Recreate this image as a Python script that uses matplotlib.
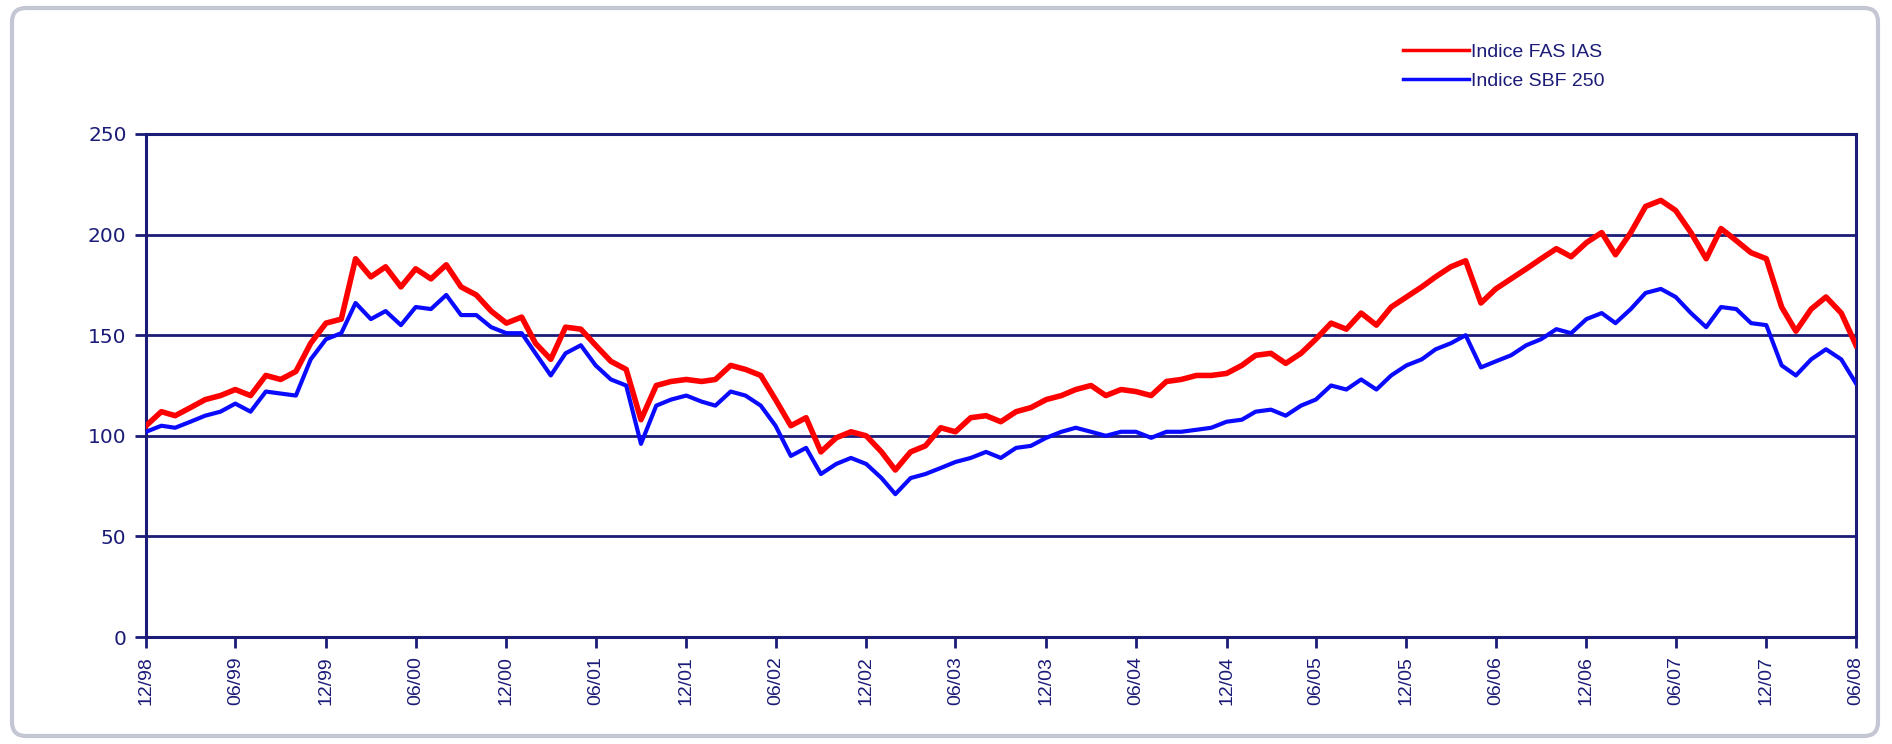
import matplotlib.pyplot as plt
import matplotlib.dates as mdates
from matplotlib.patches import FancyBboxPatch
import pandas as pd


# Data (monthly closes, base 100 in 12/98)

start_month = "1998-12-31"

fas_ias = [
    105, 112, 110, 114, 118, 120, 123, 120, 130, 128, 132, 146,
    156, 158, 188, 179, 184, 174, 183, 178, 185, 174, 170, 162,
    156, 159, 146, 138, 154, 153, 145, 137, 133, 108, 125, 127,
    128, 127, 128, 135, 133, 130, 118, 105, 109, 92, 99, 102,
    100, 92, 83, 92, 95, 104, 102, 109, 110, 107, 112, 114,
    118, 120, 123, 125, 120, 123, 122, 120, 127, 128, 130, 130,
    131, 135, 140, 141, 136, 141, 148, 156, 153, 161, 155, 164,
    169, 174, 179, 184, 187, 166, 173, 178, 183, 188, 193, 189,
    196, 201, 190, 201, 214, 217, 212, 201, 188, 203, 197, 191,
    188, 164, 152, 163, 169, 161, 145,
]

sbf_250 = [
    102, 105, 104, 107, 110, 112, 116, 112, 122, 121, 120, 138,
    148, 151, 166, 158, 162, 155, 164, 163, 170, 160, 160, 154,
    151, 151, 141, 130, 141, 145, 135, 128, 125, 96, 115, 118,
    120, 117, 115, 122, 120, 115, 105, 90, 94, 81, 86, 89,
    86, 79, 71, 79, 81, 84, 87, 89, 92, 89, 94, 95,
    99, 102, 104, 102, 100, 102, 102, 99, 102, 102, 103, 104,
    107, 108, 112, 113, 110, 115, 118, 125, 123, 128, 123, 130,
    135, 138, 143, 146, 150, 134, 137, 140, 145, 148, 153, 151,
    158, 161, 156, 163, 171, 173, 169, 161, 154, 164, 163, 156,
    155, 135, 130, 138, 143, 138, 126,
]

series_labels = ["Indice FAS IAS", "Indice SBF 250"]

y_ticks = [0, 50, 100, 150, 200, 250]

dates = pd.date_range(start_month, periods=len(fas_ias), freq="ME")


# Style

NAVY = "#1c1c78"
plt.rcParams["font.family"] = ["Liberation Sans", "DejaVu Sans"]


# Figure

fig = plt.figure(figsize=(18.92, 7.44), dpi=100)

# light rounded frame around the whole chart
frame = FancyBboxPatch(
    (12, 8), 1866, 728,
    boxstyle="round,pad=0,rounding_size=14",
    transform=None,
    facecolor="none",
    edgecolor="#c4c6d4",
    linewidth=3,
    zorder=-1,
)
fig.patches.append(frame)

ax = fig.add_axes([0.0772, 0.1438, 0.9038, 0.6761])
ax.set_facecolor("none")

ax.plot(dates, fas_ias, color="#ff0000", linewidth=4, label=series_labels[0], zorder=3)
ax.plot(dates, sbf_250, color="#0a0aff", linewidth=3, label=series_labels[1], zorder=4)


# Axes

ax.set_ylim(0, 250)
ax.set_xlim(dates[0], dates[-1])

ax.set_yticks(y_ticks)
ax.yaxis.grid(True, color=NAVY, linewidth=2)
ax.set_axisbelow(True)

tick_dates = dates[::6]
ax.set_xticks(tick_dates)
ax.xaxis.set_major_formatter(mdates.DateFormatter("%m/%y"))

for side in ["left", "right", "top", "bottom"]:
    ax.spines[side].set_color(NAVY)
    ax.spines[side].set_linewidth(2.2)

ax.tick_params(
    axis="both",
    colors=NAVY,
    direction="out",
    length=8,
    width=2,
    labelsize=14,
    pad=6,
)
ax.tick_params(axis="x", labelrotation=90)

# wider digits on the value axis
for label in ax.get_yticklabels():
    label.set_family("DejaVu Sans")
    label.set_fontsize(14.5)


# Legend

leg = ax.legend(
    loc="upper left",
    bbox_to_anchor=(0.725, 1.215),
    frameon=False,
    fontsize=14,
    handlelength=3.4,
    handletextpad=0.1,
    labelspacing=0.6,
    labelcolor=NAVY,
)
for line in leg.get_lines():
    line.set_linewidth(2.5)

fig.savefig("out.png", dpi=100)
